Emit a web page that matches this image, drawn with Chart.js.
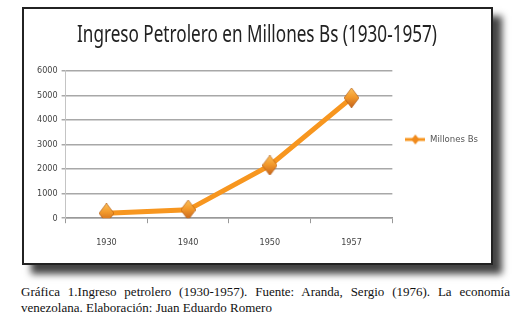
<!DOCTYPE html>
<html><head><meta charset="utf-8">
<script src="https://cdn.jsdelivr.net/npm/chart.js@4"></script>
<style>
html,body{margin:0;padding:0;background:#fff;width:532px;height:323px;overflow:hidden;}
#box{position:absolute;left:22px;top:7px;width:467px;height:254px;border:2px solid #222;background:#fff;box-shadow:9px 9px 7px #444;}
#wrap{position:absolute;left:0;top:0;width:532px;height:270px;}
#cap{position:absolute;left:21px;top:284px;width:489px;font-family:"Liberation Serif",serif;font-size:13px;line-height:16px;text-align:justify;color:#111;}
</style></head><body>
<div id="box"></div>
<div id="wrap"><canvas id="c" width="532" height="270"></canvas></div>
<div id="cap">Gráfica 1.Ingreso petrolero (1930-1957). Fuente: Aranda, Sergio (1976). La economía venezolana. Elaboración: Juan Eduardo Romero</div>
<script>
const categories = ['1930','1940','1950','1957'];
const seriesName = 'Millones Bs';
const values = [200, 340, 2150, 4900];
const yTicks = [0,1000,2000,3000,4000,5000,6000];
const titleText = 'Ingreso Petrolero en Millones Bs (1930-1957)';
const FONT = '"DejaVu Sans Condensed", Roboto, sans-serif';
const TITLE_FONT = '"Noto Sans", "Open Sans", sans-serif';
const TITLE_WIDTH = 360, TITLE_CENTER = 257;

// elongated shaded diamond marker
function makeDiamond(w, h) {
  const c = document.createElement('canvas');
  c.width = w; c.height = h;
  const g = c.getContext('2d');
  const grad = g.createLinearGradient(0, 0, 0, h);
  grad.addColorStop(0, '#fcc05a');
  grad.addColorStop(0.45, '#f39a2c');
  grad.addColorStop(1, '#c5621a');
  g.fillStyle = grad;
  g.beginPath(); g.moveTo(w/2, 0); g.lineTo(w, h/2); g.lineTo(w/2, h); g.lineTo(0, h/2); g.closePath(); g.fill();
  g.strokeStyle = 'rgba(170,80,10,0.6)'; g.lineWidth = 1; g.stroke();
  return c;
}
const marker = makeDiamond(15, 20);

const legendIcon = document.createElement('canvas');
legendIcon.width = 20; legendIcon.height = 12;
(function(){
  const g = legendIcon.getContext('2d');
  g.strokeStyle = '#f7941d'; g.lineWidth = 3;
  g.beginPath(); g.moveTo(0,6); g.lineTo(20,6); g.stroke();
  g.fillStyle = '#f08a1c';
  g.beginPath(); g.moveTo(10,1); g.lineTo(14,6); g.lineTo(10,11); g.lineTo(6,6); g.closePath(); g.fill();
})();

// Horizontally condense the title (the original uses a narrow font)
const condensedTitle = {
  id: 'condensedTitle',
  afterLayout(chart) {
    const t = chart.titleBlock;
    if (!t || t._wrapped) return;
    const orig = t.draw.bind(t);
    t.draw = function () {
      const ctx = chart.ctx;
      const f = t.options.font;
      ctx.save();
      ctx.font = `${f.weight || 'normal'} ${f.size}px ${f.family}`;
      const w = Math.min(ctx.measureText(titleText).width, t.right - t.left);
      const sx = TITLE_WIDTH / w;
      const cx = (t.left + t.right) / 2;
      ctx.translate(TITLE_CENTER, 0);
      ctx.scale(sx, 1);
      ctx.translate(-cx, 0);
      orig();
      ctx.restore();
    };
    t._wrapped = true;
  }
};

new Chart(document.getElementById('c'), {
  type: 'line',
  data: {
    labels: categories,
    datasets: [{
      label: seriesName,
      data: values,
      borderColor: '#f7961f',
      borderWidth: 5,
      pointStyle: marker,
      pointRadius: 10,
      pointHoverRadius: 10,
      tension: 0,
      fill: false
    }]
  },
  plugins: [condensedTitle],
  options: {
    responsive: false,
    animation: false,
    devicePixelRatio: 1,
    layout: { padding: { left: 33, right: 44, top: 17, bottom: 8 } },
    plugins: {
      title: {
        display: true, text: titleText, color: '#222',
        font: { family: TITLE_FONT, size: 24, weight: 'normal' },
        padding: { top: 4, bottom: 21 }
      },
      legend: {
        position: 'right',
        labels: {
          usePointStyle: true,
          pointStyle: legendIcon,
          pointStyleWidth: 20,
          color: '#555',
          font: { family: FONT, size: 9.5 },
          padding: 13
        }
      },
      tooltip: { enabled: false }
    },
    scales: {
      x: {
        offset: true,
        grid: { display: true, drawOnChartArea: false, offset: true, tickLength: 5, color: '#999' },
        border: { color: '#999', width: 1.5 },
        ticks: { color: '#444', font: { family: FONT, size: 9 }, padding: 14 }
      },
      y: {
        min: 0, max: 6000,
        afterBuildTicks: (axis) => { axis.ticks = yTicks.map(v => ({ value: v })); },
        grid: { color: '#a8a8a8', lineWidth: 1.5, tickLength: 4 },
        border: { display: true, color: '#c4c4c4', width: 1 },
        ticks: { color: '#444', font: { family: FONT, size: 9 }, padding: 4, callback: (v) => String(v) }
      }
    }
  }
});
</script>
</body></html>
